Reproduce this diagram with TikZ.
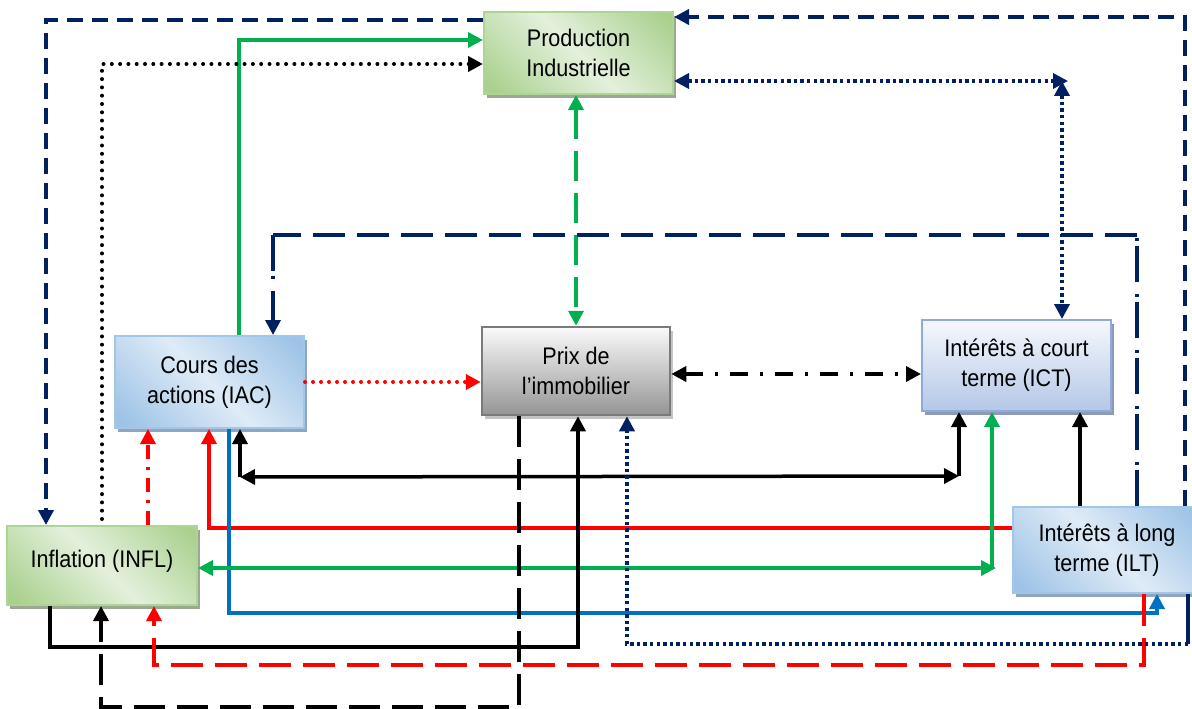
\documentclass[tikz,border=0pt]{standalone}
\usepackage{fontspec}
\setmainfont{Liberation Sans}[FakeStretch=0.9]
\usetikzlibrary{arrows.meta,shadows}

\definecolor{navy}{HTML}{002060}
\definecolor{lgreen}{HTML}{00B050}
\definecolor{lred}{HTML}{FF0000}
\definecolor{lblue}{HTML}{0070C0}
\definecolor{glight}{HTML}{E4F0DC}
\definecolor{gdark}{HTML}{A9D18E}
\definecolor{gborder}{HTML}{AFD596}
\definecolor{gshadow}{HTML}{9DA893}
\definecolor{blight}{HTML}{DFEBF7}
\definecolor{bdark}{HTML}{9DC3E6}
\definecolor{bborder}{HTML}{A2C6E8}
\definecolor{bshadow}{HTML}{8FA6BE}
\definecolor{ctop}{HTML}{F6F8FD}
\definecolor{cbottom}{HTML}{B4C7E7}
\definecolor{cborder}{HTML}{8FAADC}
\definecolor{cshadow}{HTML}{8E9AB4}
\definecolor{ptop}{HTML}{FAFAFA}
\definecolor{pbottom}{HTML}{959595}
\definecolor{pborder}{HTML}{7A7A7A}
\definecolor{pshadow}{HTML}{C4C4C4}

\pgfdeclarehorizontalshading{greenshade}{100bp}{color(0bp)=(gdark); color(18bp)=(gdark); color(50bp)=(glight); color(82bp)=(gdark); color(100bp)=(gdark)}
\pgfdeclarehorizontalshading{blueshade}{100bp}{color(0bp)=(bdark); color(18bp)=(bdark); color(50bp)=(blight); color(82bp)=(bdark); color(100bp)=(bdark)}

\tikzset{
  box/.style={rectangle, line width=2pt, inner sep=0pt, align=center,
    font=\fontsize{24}{30}\selectfont, text=black},
  greenbox/.style={box, draw=gborder, shading=greenshade, shading angle=45,
    drop shadow={shadow xshift=3pt, shadow yshift=-4pt, fill=gshadow, opacity=1}},
  bluebox/.style={box, draw=bborder, shading=blueshade, shading angle=45,
    drop shadow={shadow xshift=3pt, shadow yshift=-4pt, fill=bshadow, opacity=1}},
  ictbox/.style={box, draw=cborder, top color=ctop, bottom color=cbottom,
    drop shadow={shadow xshift=3pt, shadow yshift=-4pt, fill=cshadow, opacity=1}},
  greybox/.style={box, draw=pborder, line width=2.5pt, top color=ptop, bottom color=pbottom,
    drop shadow={shadow xshift=3pt, shadow yshift=-4pt, fill=pshadow, opacity=1}},
  navydash/.style={draw=navy, line width=3.8pt, dash pattern=on 16pt off 9pt},
  navylong/.style={draw=navy, line width=3.5pt, dash pattern=on 32pt off 12pt},
  navydashdot/.style={draw=navy, line width=3.5pt, dash pattern=on 36pt off 5pt on 3pt off 12pt},
  navydot/.style={draw=navy, line width=3.5pt, dash pattern=on 3.4pt off 3.2pt},
  navysolid/.style={draw=navy, line width=3.5pt},
  greensolid/.style={draw=lgreen, line width=3.5pt},
  greendash/.style={draw=lgreen, line width=3.5pt, dash pattern=on 30pt off 12pt},
  blacksolid/.style={draw=black, line width=3.5pt},
  blackdot/.style={draw=black, line width=4pt, line cap=round, dash pattern=on 0pt off 8.3pt},
  blackdashdot/.style={draw=black, line width=3.5pt, dash pattern=on 18pt off 12pt on 3pt off 12pt},
  blacklong/.style={draw=black, line width=3.5pt, dash pattern=on 31pt off 12pt},
  redsolid/.style={draw=lred, line width=3.5pt},
  reddot/.style={draw=lred, line width=4pt, line cap=round, dash pattern=on 0pt off 8pt},
  reddash/.style={draw=lred, line width=3.5pt, dash pattern=on 32pt off 12pt},
  reddashdot/.style={draw=lred, line width=3.5pt, dash pattern=on 14pt off 8pt on 3pt off 8pt},
  bluesolid/.style={draw=lblue, line width=3.5pt},
}

\begin{document}
\begin{tikzpicture}[x=1pt, y=-1pt, >={Triangle[length=15pt,width=15pt]}]
\useasboundingbox (0,0) rectangle (1192,709);
\clip (0,0) rectangle (1192,709);

% variables
\node[greenbox, minimum width=189pt, minimum height=82pt] (PI) at (578.5,53) {Production\\Industrielle};
\node[bluebox, minimum width=189pt, minimum height=92pt] (IAC) at (209.5,382) {Cours des\\actions (IAC)};
\node[greybox, minimum width=188pt, minimum height=88pt] (PIM) at (576,371) {Prix de\\l’immobilier};
\node[ictbox, minimum width=189pt, minimum height=91pt] (ICT) at (1016.5,365.5) {Intérêts à court\\terme (ICT)};
\node[bluebox, minimum width=188pt, minimum height=86pt] (ILT) at (1107,550) {Intérêts à long\\terme (ILT)};
\node[greenbox, minimum width=190pt, minimum height=79pt, text height=17pt, text depth=14pt] (INFL) at (102,565.5) {Inflation (INFL)};

% bend points of the links
\coordinate (c1) at (46,20);
\coordinate (c2) at (1185,17);
\coordinate (c3) at (239,40);
\coordinate (c4) at (102,64);
\coordinate (c5) at (1068,81);
\coordinate (c5b) at (1062,81);
\coordinate (c7) at (0,382);
\coordinate (c8) at (0,374);
\coordinate (c9a) at (240,477);
\coordinate (c9b) at (959,476);
\coordinate (c10) at (209,528);
\coordinate (c11a) at (229,613);
\coordinate (c11b) at (1157,613);
\coordinate (c12a) at (996,568);
\coordinate (c12b) at (992,568);
\coordinate (c13) at (1080,0);
\coordinate (c14a) at (50,647);
\coordinate (c14b) at (578,647);
\coordinate (c15a) at (519,707);
\coordinate (c15b) at (101,707);
\coordinate (c16a) at (1144,665);
\coordinate (c16b) at (154,665);
\coordinate (c17) at (148,0);
\coordinate (c18a) at (1188,644);
\coordinate (c18b) at (627,644);
\coordinate (c19a) at (1137,235);
\coordinate (c19b) at (273,235);

% links
\draw[navydash,->] (PI.west |- c1) -| (INFL.north -| c1);
\draw[navydash,->] (ILT.north -| c2) |- (PI.east |- c2);
\draw[greensolid,->] (IAC.north -| c3) |- (PI.west |- c3);
\draw[blackdot,->] ([yshift=6pt]INFL.north -| c4) |- (PI.west |- c4);
\draw[navydot,<->] (PI.east |- c5) -- (c5);
\draw[navydot,<->] (c5b) -- (ICT.north -| c5b);
\draw[greendash,<->] (PI.south -| PIM.north) -- (PIM.north);
\draw[reddot,->] (IAC.east |- c7) -- (PIM.west |- c7);
\draw[blackdashdot,<->] (PIM.east |- c8) -- (ICT.west |- c8);
\draw[blacksolid,->] (c9a) -- (IAC.south -| c9a);
\draw[blacksolid,<->] (c9a) -- (c9b);
\draw[blacksolid,->] (c9b) -- (ICT.south -| c9b);
\draw[redsolid,->] (ILT.west |- c10) -| (IAC.south -| c10);
\draw[bluesolid,->] (IAC.south -| c11a) |- (c11b) -- (ILT.south -| c11b);
\draw[greensolid,<->] (INFL.east |- c12a) -- (c12a);
\draw[greensolid,->] (c12b) -- (ICT.south -| c12b);
\draw[blacksolid,->] (ILT.north -| c13) -- (ICT.south -| c13);
\draw[blacksolid,->] (INFL.south -| c14a) |- (c14b) -- (PIM.south -| c14b);
\draw[blacklong,->] (PIM.south -| c15a) |- (c15b) -- (INFL.south -| c15b);
\draw[reddash,->] (ILT.south -| c16a) |- (c16b) -- (INFL.south -| c16b);
\draw[reddashdot,->] (INFL.north -| c17) -- (IAC.south -| c17);
\draw[navysolid] (ILT.south -| c18a) -- (c18a);
\draw[navydot,->] (c18a) -| (PIM.south -| c18b);
\draw[navydashdot] (ILT.north -| c19a) -- (c19a);
\draw[navylong] (c19a) -- (c19b);
\draw[navydashdot,->] (c19b) -- (IAC.north -| c19b);
\end{tikzpicture}
\end{document}
